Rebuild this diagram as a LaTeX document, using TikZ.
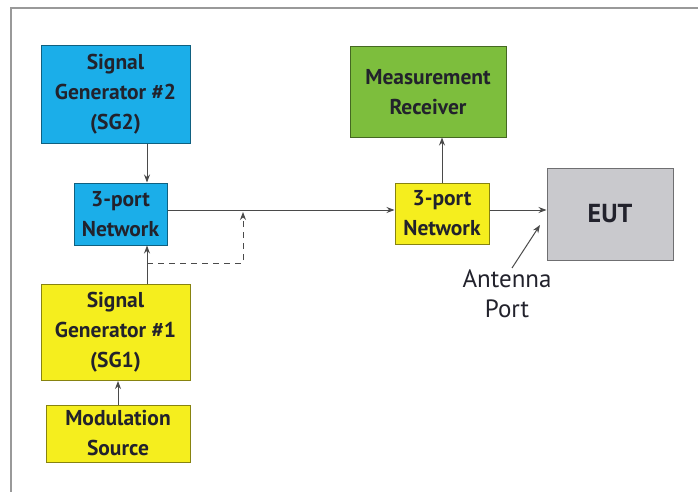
\documentclass[tikz,border=0pt]{standalone}
\usepackage{fontspec}
\setmainfont{PT Sans}
\usetikzlibrary{arrows.meta}
\definecolor{sgblue}{HTML}{1BAEE9}
\definecolor{ylw}{HTML}{F5EE1E}
\definecolor{grn}{HTML}{7DBE3D}
\definecolor{gry}{HTML}{C9C9CD}
\definecolor{txt}{HTML}{22222C}
\definecolor{ln}{HTML}{4A4A4A}
\tikzset{
  box/.style={draw=#1!55!black, line width=1pt, fill=#1, inner sep=0pt, align=center,
    text=txt, font=\fontsize{21.5}{30}\selectfont\bfseries},
  arr/.style={draw=ln, line width=1pt, -{Stealth[length=8pt,width=6pt]}},
}
\begin{document}
\begin{tikzpicture}[x=1pt,y=-1pt]
\useasboundingbox (0,0) rectangle (698,492);
\fill[white] (0,0) rectangle (698,492);
\draw[gray!80, line width=1.5pt] (11,492) -- (11,8) -- (698,8);

\node[box=sgblue, minimum width=149pt, minimum height=97pt] (sg2) at (115.5,94.5) {Signal\\Generator \#2\\(SG2)};
\node[box=sgblue, minimum width=93pt, minimum height=62pt] (net1) at (120.5,214) {3-port\\Network};
\node[box=ylw, minimum width=149pt, minimum height=96pt] (sg1) at (115.5,332.5) {Signal\\Generator \#1\\(SG1)};
\node[box=ylw, minimum width=144pt, minimum height=57pt] (mod) at (118,433.5) {Modulation\\Source};
\node[box=grn, minimum width=156pt, minimum height=90pt] (meas) at (428,92) {Measurement\\Receiver};
\node[box=ylw, minimum width=94pt, minimum height=61pt] (net2) at (442,213.5) {3-port\\Network};
\node[box=gry, minimum width=126pt, minimum height=92pt, font=\fontsize{26}{30}\selectfont\bfseries] (eut) at (610,214) {EUT};
\node[align=center, text=txt, font=\fontsize{25}{30}\selectfont, inner sep=0pt] (ant) at (507,294) {Antenna\\Port};

\coordinate (xa) at (147,0);
\coordinate (xm) at (118,0);
\coordinate (xr) at (442,0);
\coordinate (ym) at (0,210);
\coordinate (d0) at (147,263);
\coordinate (d1) at (243,263);
\coordinate (d2) at (243,212);
\coordinate (a0) at (512,268);
\coordinate (a1) at (540,225);

\draw[arr] (sg2.south -| xa) -- (net1.north -| xa);
\draw[arr] (sg1.north -| xa) -- (net1.south -| xa);
\draw[arr] (mod.north -| xm) -- (sg1.south -| xm);
\draw[arr] (net1.east |- ym) -- (net2.west |- ym);
\draw[arr] (net2.north -| xr) -- (meas.south -| xr);
\draw[arr] (net2.east |- ym) -- (eut.west |- ym);
\draw[arr, dashed, dash pattern=on 6pt off 5pt] (d0) -- (d1) -- (d2);
\draw[arr] (a0) -- (a1);
\end{tikzpicture}
\end{document}
